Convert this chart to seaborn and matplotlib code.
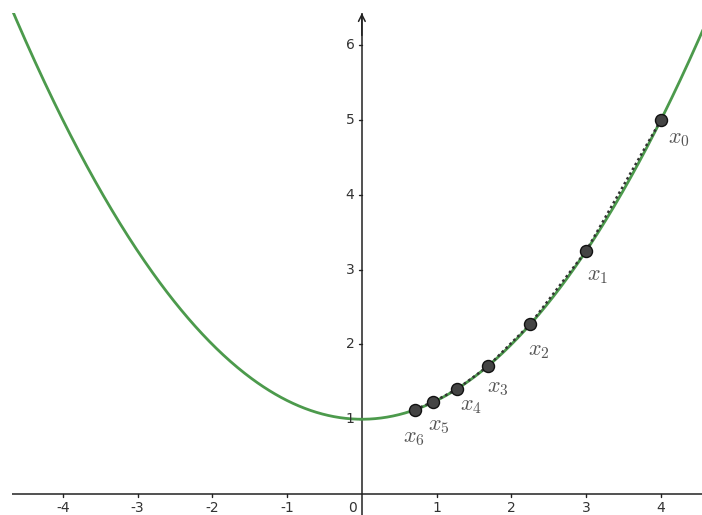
import numpy as np
import pandas as pd
import matplotlib
matplotlib.use("Agg")
import matplotlib.pyplot as plt
import seaborn as sns

sns.set_theme(style="white")
plt.rcParams['font.family'] = ['DejaVu Sans']
plt.rcParams['mathtext.fontset'] = 'cm'
plt.rcParams['axes.unicode_minus'] = False

# curve f(x) = a*x^2 + c
a_coef = 0.25
c_coef = 1.0

# iterates
pt_names = ["$x_0$", "$x_1$", "$x_2$", "$x_3$", "$x_4$", "$x_5$", "$x_6$"]
pt_x = [4.0, 3.0, 2.25, 1.69, 1.27, 0.95, 0.71]
pt_y = [5.0, 3.25, 2.27, 1.71, 1.40, 1.23, 1.13]

x_ticks = [-4, -3, -2, -1, 0, 1, 2, 3, 4]
y_ticks = [1, 2, 3, 4, 5, 6]

xlim = (-4.68, 4.55)
ylim = (-0.28, 6.43)

fig = plt.figure(figsize=(7.02, 5.15), dpi=100)
ax = fig.add_axes([12/702, 0, 690/702, 502/515])
ax.set_xlim(*xlim)
ax.set_ylim(*ylim)
for s in ax.spines.values():
    s.set_visible(False)
ax.set_xticks([]); ax.set_yticks([])
ax.set_facecolor("white")

green = "#4c9a4c"
xx = np.linspace(xlim[0] - 0.1, xlim[1] + 0.1, 600)
curve = pd.DataFrame({"x": xx, "y": a_coef * xx**2 + c_coef})
sns.lineplot(data=curve, x="x", y="y", ax=ax, color=green, lw=2.0, sort=False, zorder=3)

# dotted secants
pts = pd.DataFrame({"x": pt_x, "y": pt_y, "name": pt_names})
sns.lineplot(data=pts, x="x", y="y", ax=ax, color="#333333", lw=1.8,
             linestyle=(0, (1, 1.2)), sort=False, zorder=4)

# axes
ax.axhline(0, color="#222222", lw=1.1, zorder=2)
ax.axvline(0, color="#222222", lw=1.1, zorder=2)
ax.annotate("", xy=(0, ylim[1]), xytext=(0, ylim[1] - 0.3),
            arrowprops=dict(arrowstyle="->", color="#222222", lw=1.1,
                            mutation_scale=12, shrinkA=0, shrinkB=0), zorder=2)

# ticks
tick_col = "#333333"
for t in x_ticks:
    if t != 0:
        ax.plot([t, t], [0, -0.04], color="#222222", lw=1, zorder=2)
        ax.text(t, -0.09, str(t), ha="center", va="top", fontsize=10, color=tick_col)
    else:
        ax.text(-0.13, -0.09, "0", ha="center", va="top", fontsize=10, color=tick_col)
for t in y_ticks:
    ax.plot([0, -0.04], [t, t], color="#222222", lw=1, zorder=2)
    ax.text(-0.1, t, str(t), ha="right", va="center", fontsize=10, color=tick_col)

sns.scatterplot(data=pts, x="x", y="y", ax=ax, s=75, color="#444444",
                edgecolor="#111111", linewidth=1.0, zorder=5, legend=False)

label_offsets = [(7, -19), (1, -25), (-2, -27), (-1, -22), (3, -17), (-5, -24), (-12, -28)]
for (x, y, nm), off in zip(zip(pt_x, pt_y, pt_names), label_offsets):
    ax.annotate(nm, (x, y), xytext=off, textcoords="offset pixels",
                ha="left", va="center", fontsize=16, color="#555555")

ax.set_xlabel(""); ax.set_ylabel("")
fig.savefig("out.png", dpi=100, facecolor="white")
